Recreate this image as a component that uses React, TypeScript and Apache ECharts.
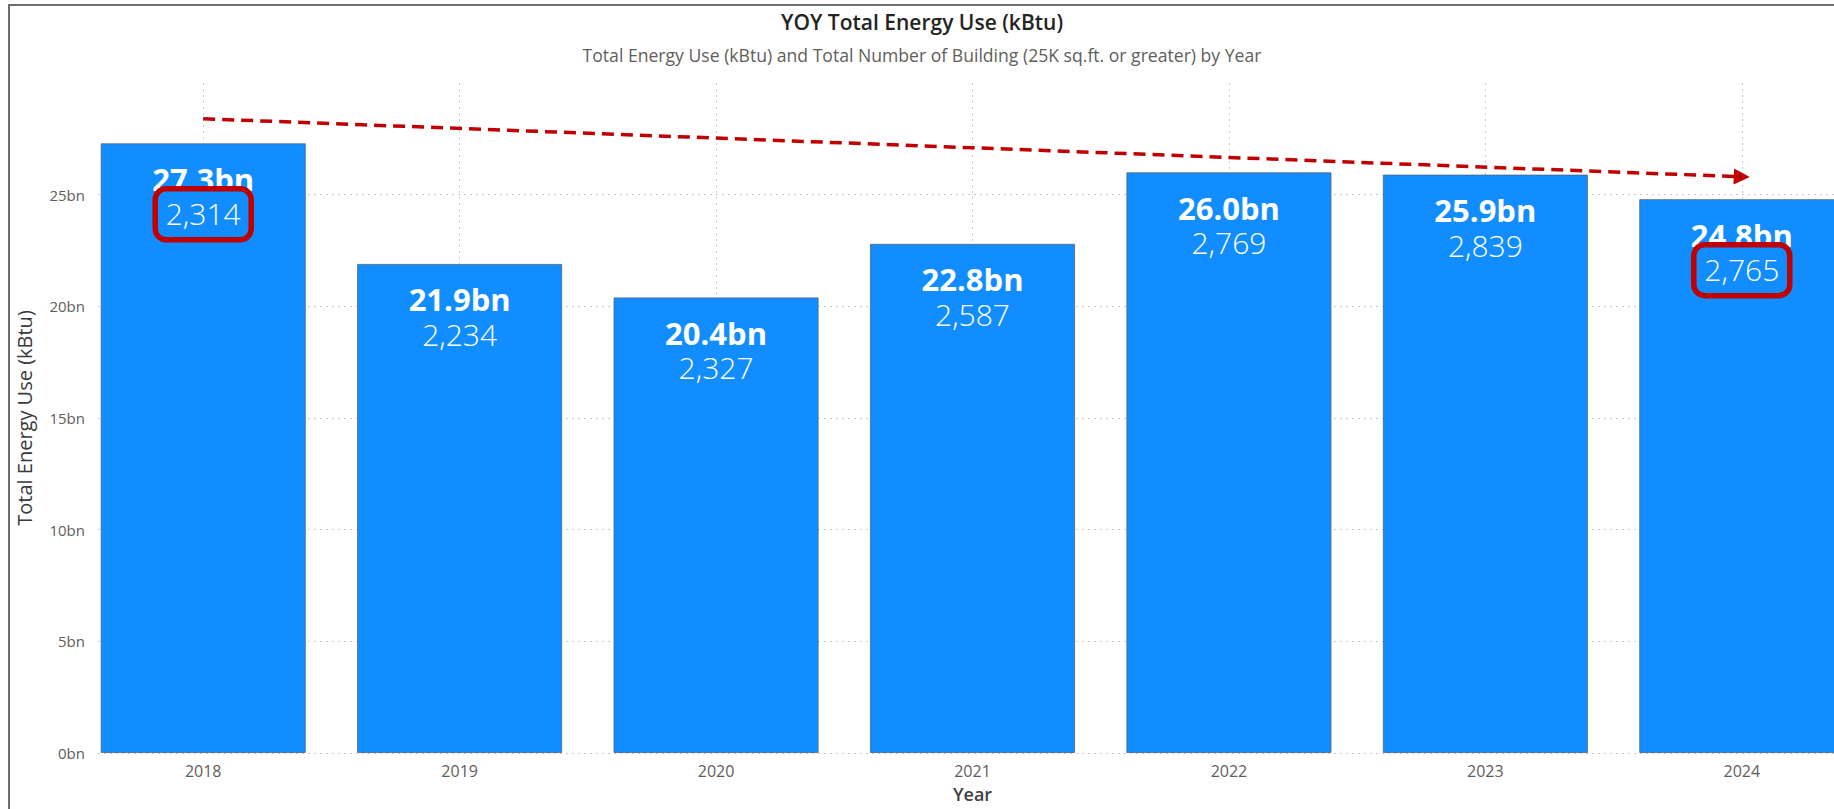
import { useEffect, useRef } from 'react';
import * as echarts from 'echarts';

const years = ['2018', '2019', '2020', '2021', '2022', '2023', '2024'];
const energyUse = [27.3e9, 21.9e9, 20.4e9, 22.8e9, 26.0e9, 25.9e9, 24.8e9];
const buildingCounts = [2314, 2234, 2327, 2587, 2769, 2839, 2765];
const highlightedYears = ['2018', '2024'];
const trendStart = 28.4e9;
const trendEnd = 25.8e9;

const TITLE = 'YOY Total Energy Use (kBtu)';
const SUBTITLE = 'Total Energy Use (kBtu) and Total Number of Building (25K sq.ft. or greater) by Year';
const FONT = '"Open Sans", "Noto Sans", sans-serif';
const RED = '#C00000';
const VIEW_W = 1834;
const CHART_W = 1900;

export default function App() {
  const ref = useRef<HTMLDivElement>(null);

  useEffect(() => {
    if (!ref.current) return;
    const chart = echarts.init(ref.current, undefined, { renderer: 'svg' });
    const option: any = {
      animation: false,
      backgroundColor: '#ffffff',
      textStyle: { fontFamily: FONT },
      title: [
        {
          text: TITLE,
          left: VIEW_W / 2,
          textAlign: 'center',
          top: 6,
          textStyle: { fontSize: 21, fontWeight: 600, color: '#252423', fontFamily: FONT },
        },
        {
          text: SUBTITLE,
          left: VIEW_W / 2,
          textAlign: 'center',
          top: 41,
          textStyle: { fontSize: 17.6, fontWeight: 400, color: '#605E5C', fontFamily: FONT },
        },
      ],
      grid: [
        { left: 98, right: 30, top: 83, bottom: 56 },
        { left: 75, right: 30, top: 83, bottom: 56 },
      ],
      xAxis: [
        { type: 'category', gridIndex: 0, data: years, show: false },
        {
          type: 'category',
          gridIndex: 1,
          data: years,
          axisLine: { show: false },
          axisTick: { show: false },
          axisLabel: { fontSize: 16, color: '#605E5C', margin: 10, fontFamily: FONT },
          splitLine: {
            show: true,
            alignWithLabel: true,
            lineStyle: { type: [2, 4], color: '#cccccc', width: 1 },
          },
          name: 'Year',
          nameLocation: 'middle',
          nameGap: 32,
          nameTextStyle: { fontSize: 18, fontWeight: 600, color: '#404040', fontFamily: FONT },
        },
      ],
      yAxis: [
        {
          type: 'value',
          gridIndex: 0,
          min: 0,
          max: 30e9,
          interval: 5e9,
          axisLine: { show: false },
          axisTick: { show: false },
          axisLabel: {
            showMaxLabel: false,
            fontSize: 15,
            color: '#605E5C',
            margin: 13,
            fontFamily: FONT,
            formatter: (v: number) => `${Math.round(v / 1e9)}bn`,
          },
          splitLine: {
            show: true,
            showMaxLine: false,
            lineStyle: { type: [2, 4], color: '#c8c8c8', width: 1 },
          },
          name: 'Total Energy Use (kBtu)',
          nameLocation: 'middle',
          nameRotate: 90,
          nameGap: 64,
          nameTextStyle: { fontSize: 20, fontWeight: 400, color: '#3a3a3a', fontFamily: FONT },
        },
        {
          type: 'value',
          gridIndex: 1,
          min: 0,
          max: 30e9,
          interval: 5e9,
          show: false,
          splitLine: { show: false },
        },
      ],
      series: [
        {
          type: 'bar',
          xAxisIndex: 1,
          yAxisIndex: 1,
          data: energyUse,
          barCategoryGap: '20%',
          itemStyle: { color: '#118DFF', borderColor: 'rgba(80,95,115,0.75)', borderWidth: 1 },
          emphasis: { disabled: true },
          label: {
            show: true,
            position: 'insideTop',
            distance: 18,
            formatter: (p: any) =>
              `{v|${(energyUse[p.dataIndex] / 1e9).toFixed(1)}bn}\n{c|${buildingCounts[p.dataIndex].toLocaleString('en-US')}}`,
            rich: {
              v: { fontSize: 31, fontWeight: 'bold', color: '#ffffff', lineHeight: 35, fontFamily: FONT },
              c: { fontSize: 30, fontWeight: 300, color: '#ffffff', lineHeight: 35, fontFamily: FONT },
            },
          },
          markLine: {
            silent: true,
            z: 10,
            symbol: ['none', 'triangle'],
            symbolSize: 16,
            label: { show: false },
            emphasis: { disabled: true },
            lineStyle: { color: RED, width: 3.5, type: [12, 7], opacity: 1 },
            data: [[{ coord: [years[0], trendStart] }, { coord: [years[years.length - 1], trendEnd] }]],
          },
        },
      ],
    };
    chart.setOption(option);

    const boxes = highlightedYears.map((y) => {
      const i = years.indexOf(y);
      const [cx, top] = chart.convertToPixel({ seriesIndex: 0 }, [i, energyUse[i]]) as number[];
      return {
        type: 'rect',
        z: 100,
        shape: { x: cx - 48, y: top + 45.5, width: 96, height: 51, r: 11 },
        style: { fill: 'none', stroke: RED, lineWidth: 5.5 },
        silent: true,
      };
    });
    chart.setOption({ graphic: boxes });

    return () => chart.dispose();
  }, []);

  return (
    <div
      style={{
        position: 'absolute',
        left: 0,
        top: 0,
        width: VIEW_W,
        height: 809,
        overflow: 'hidden',
        background: '#fff',
      }}
    >
      <div ref={ref} style={{ position: 'absolute', left: 0, top: 0, width: CHART_W, height: 809 }} />
      <div
        style={{
          position: 'absolute',
          left: 8,
          top: 4,
          width: 1824,
          height: 803,
          borderLeft: '2px solid #6e6e6e',
          borderTop: '2px solid #6e6e6e',
          pointerEvents: 'none',
        }}
      />
    </div>
  );
}
